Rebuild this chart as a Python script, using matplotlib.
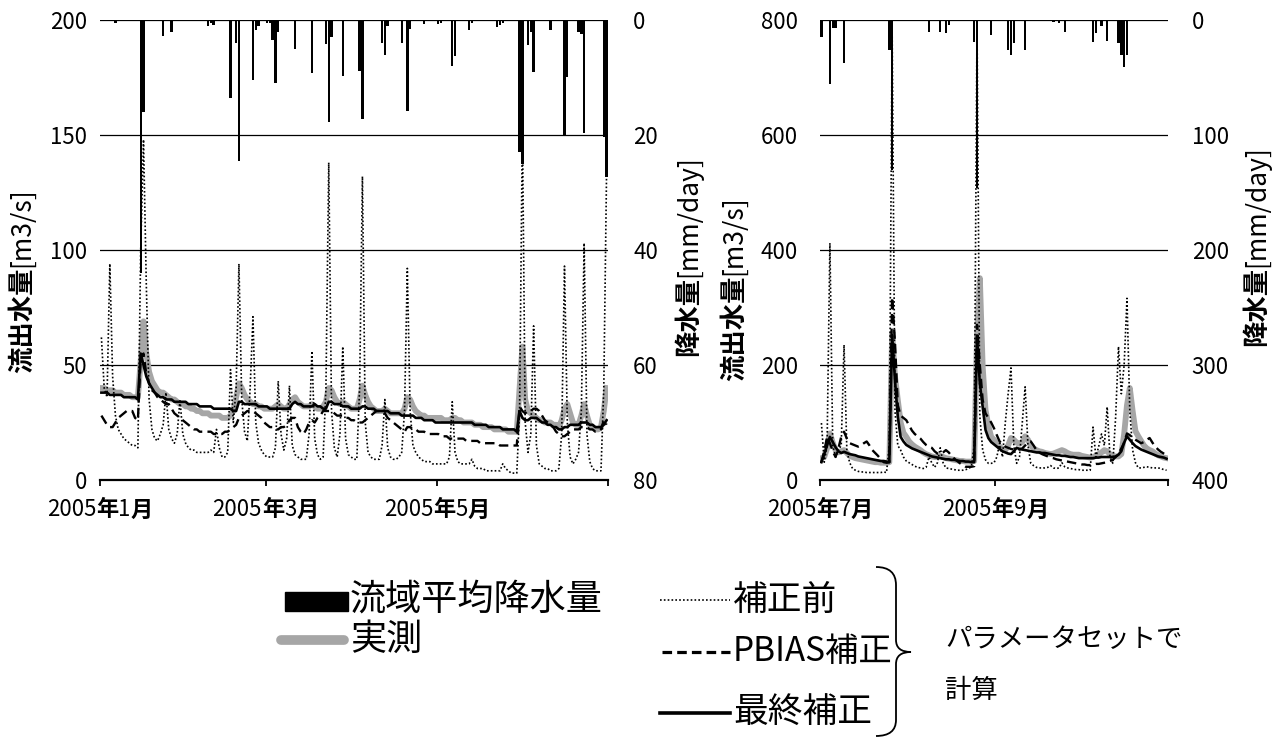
import numpy as np
import pandas as pd
import matplotlib
matplotlib.use('Agg')
import matplotlib.pyplot as plt
import matplotlib.dates as mdates
from matplotlib.transforms import Bbox
from matplotlib.patches import Rectangle, PathPatch
from matplotlib.path import Path

plt.rcParams['font.family'] = ['Noto Sans CJK JP', 'DejaVu Sans']

# ---- 2005年1月〜6月 (daily) ----
obs1 = [40, 40, 39, 39, 39, 38, 38, 38, 37, 37,
        37, 36, 36, 36, 52, 69, 55, 47, 43, 41,
        39, 38, 38, 37, 36, 35, 35, 34, 33, 33,
        32, 32, 31, 31, 30, 30, 29, 29, 29, 28,
        28, 28, 28, 27, 27, 27, 28, 30, 36, 42,
        40, 37, 35, 34, 33, 33, 32, 32, 31, 31,
        31, 31, 32, 33, 32, 31, 31, 33, 35, 36,
        34, 33, 32, 32, 32, 33, 32, 31, 31, 32,
        34, 40, 39, 36, 34, 33, 34, 33, 32, 31,
        31, 31, 35, 41, 37, 34, 32, 31, 30, 30,
        30, 31, 30, 29, 29, 29, 29, 29, 31, 36,
        35, 32, 30, 29, 28, 28, 27, 27, 27, 27,
        27, 27, 26, 26, 26, 27, 27, 26, 26, 25,
        25, 25, 25, 24, 24, 24, 23, 23, 23, 23,
        22, 22, 22, 22, 22, 21, 21, 21, 21, 40,
        58, 35, 30, 29, 28, 27, 26, 26, 25, 25,
        25, 24, 24, 23, 26, 31, 33, 29, 25, 24,
        24, 28, 33, 28, 24, 23, 22, 22, 23, 30,
        40]
raw1 = [62, 40, 36, 94, 45, 28, 22, 20, 18, 17,
        16, 15, 15, 14, 100, 148, 85, 35, 22, 18,
        17, 20, 24, 38, 22, 18, 16, 20, 35, 20,
        16, 14, 13, 13, 12, 12, 12, 12, 12, 13,
        12, 22, 14, 10, 10, 12, 48, 25, 40, 94,
        35, 21, 17, 40, 71, 25, 16, 13, 11, 10,
        10, 10, 14, 43, 20, 13, 18, 41, 15, 11,
        10, 9, 9, 9, 20, 56, 18, 11, 9, 10,
        40, 138, 30, 14, 10, 20, 58, 18, 11, 10,
        9, 9, 40, 132, 25, 12, 10, 9, 9, 9,
        15, 35, 14, 10, 9, 9, 10, 12, 30, 92,
        30, 15, 12, 10, 9, 8, 8, 8, 7, 7,
        7, 7, 7, 7, 10, 34, 12, 8, 7, 7,
        7, 7, 9, 6, 5, 5, 5, 4, 4, 4,
        4, 4, 4, 7, 5, 4, 3, 3, 3, 30,
        155, 25, 12, 20, 67, 15, 7, 6, 5, 5,
        4, 4, 4, 5, 20, 93, 25, 10, 7, 9,
        12, 30, 103, 20, 8, 5, 4, 4, 4, 40,
        135]
pbias1 = [28, 26, 24, 23, 23, 25, 27, 28, 29, 30,
          30, 30, 27, 26, 53, 55, 46, 42, 39, 38,
          36, 35, 34, 33, 33, 31, 29, 28, 27, 26,
          25, 24, 23, 22, 22, 21, 21, 21, 21, 21,
          20, 20, 20, 20, 21, 21, 22, 23, 24, 27,
          28, 29, 30, 30, 30, 29, 28, 27, 25, 24,
          23, 23, 22, 22, 23, 23, 24, 26, 27, 27,
          23, 21, 20, 22, 25, 26, 25, 27, 28, 30,
          30, 30, 30, 29, 28, 28, 28, 27, 27, 26,
          26, 25, 25, 25, 26, 27, 28, 29, 30, 30,
          30, 29, 27, 26, 25, 24, 23, 22, 21, 23,
          23, 22, 22, 21, 21, 21, 20, 20, 20, 20,
          20, 19, 19, 19, 18, 18, 18, 18, 18, 18,
          17, 17, 17, 17, 17, 16, 16, 16, 16, 16,
          16, 16, 15, 15, 15, 15, 15, 15, 15, 32,
          30, 29, 30, 30, 31, 31, 30, 28, 26, 25,
          24, 23, 21, 20, 19, 19, 20, 21, 22, 22,
          22, 23, 23, 23, 22, 22, 21, 21, 22, 26,
          24]
final1 = [38, 38, 38, 37, 37, 37, 37, 37, 36, 36,
          36, 36, 36, 35, 55, 50, 45, 42, 40, 38,
          37, 36, 36, 35, 35, 35, 34, 34, 34, 34,
          34, 33, 33, 33, 33, 32, 32, 32, 32, 32,
          31, 31, 31, 31, 31, 31, 31, 30, 30, 34,
          34, 33, 33, 33, 33, 33, 32, 32, 32, 32,
          31, 31, 31, 31, 31, 31, 31, 31, 33, 34,
          33, 33, 32, 32, 32, 32, 33, 32, 32, 31,
          31, 34, 34, 33, 33, 33, 32, 32, 32, 31,
          31, 31, 31, 32, 32, 31, 31, 31, 30, 30,
          30, 30, 30, 29, 29, 29, 29, 28, 28, 28,
          28, 28, 27, 27, 27, 26, 26, 26, 26, 25,
          25, 25, 25, 25, 25, 25, 25, 25, 25, 25,
          25, 25, 25, 24, 24, 24, 24, 24, 23, 23,
          23, 23, 23, 22, 22, 22, 22, 22, 21, 30,
          27, 26, 26, 27, 27, 27, 26, 25, 25, 24,
          24, 23, 23, 22, 22, 23, 23, 24, 24, 24,
          24, 25, 25, 25, 24, 24, 23, 23, 23, 24,
          26]
rain1_day = [5, 14, 15, 22, 25, 38, 39, 40, 46, 48, 49, 54, 55, 56, 59, 60, 61, 62, 63,
             69, 75, 80, 81, 82, 86, 92, 93, 100, 101, 102, 107, 109, 110, 115, 120, 121,
             125, 126, 131, 132, 141, 142, 143, 149, 150, 152, 153, 154, 160, 165, 166,
             170, 171, 172, 179, 180]
rain1_mm = [0.5, 44, 16, 2.8, 2.1, 1.0, 0.5, 0.8, 13.6, 4.0, 24.5, 10.4, 1.7, 1.0, 0.5, 0.5,
            3.5, 11, 2.0, 5.0, 9.2, 4.2, 17.7, 3.0, 9.7, 8.8, 17.2, 4.0, 6.1, 1.0, 4.0, 15.8,
            1.5, 0.7, 0.7, 0.5, 8.0, 6.3, 1.7, 0.6, 1.2, 0.8, 0.5, 23, 25, 4.3, 2.0, 9.0, 1.7,
            20.2, 9.9, 2.0, 2.4, 19.7, 20.3, 27.3]

# ---- 2005年7月〜10月 (daily) ----
obs2 = [38, 40, 55, 81, 65, 52, 48, 50, 52, 47,
        42, 40, 38, 37, 36, 35, 34, 33, 32, 31,
        31, 30, 30, 30, 31, 255, 180, 139, 100, 82,
        75, 67, 62, 58, 55, 52, 48, 45, 43, 41,
        40, 40, 42, 40, 38, 37, 36, 35, 34, 33,
        33, 32, 32, 32, 33, 250, 351, 197, 122, 95,
        75, 70, 63, 58, 54, 52, 60, 73, 70, 65,
        63, 66, 76, 70, 60, 55, 52, 50, 49, 47,
        46, 45, 46, 48, 50, 52, 50, 47, 45, 44,
        44, 44, 42, 41, 40, 39, 40, 42, 45, 48,
        52, 50, 45, 42, 41, 41, 45, 80, 130, 160,
        120, 85, 76, 68, 60, 55, 52, 50, 46, 43,
        41, 39, 38]
raw2 = [99, 31, 60, 412, 60, 40, 52, 60, 235, 50,
        30, 20, 17, 15, 14, 14, 13, 13, 13, 13,
        13, 13, 14, 13, 60, 780, 120, 60, 52, 40,
        33, 30, 27, 24, 22, 21, 20, 22, 40, 30,
        22, 30, 56, 30, 21, 20, 19, 18, 17, 17,
        17, 18, 20, 23, 60, 790, 110, 52, 35, 29,
        29, 30, 40, 64, 40, 100, 150, 195, 60, 29,
        40, 100, 162, 60, 29, 25, 22, 21, 21, 21,
        22, 25, 21, 20, 21, 30, 23, 21, 20, 19,
        18, 18, 17, 17, 17, 17, 92, 40, 58, 80,
        60, 127, 40, 29, 110, 232, 150, 200, 316, 120,
        52, 30, 21, 21, 22, 23, 22, 21, 21, 21,
        20, 18, 17]
pbias2 = [31, 50, 75, 64, 50, 40, 55, 75, 84, 72,
          64, 62, 60, 58, 60, 64, 67, 60, 52, 47,
          42, 36, 31, 30, 31, 318, 240, 130, 112, 108,
          104, 95, 86, 80, 76, 72, 66, 61, 58, 56,
          50, 46, 45, 48, 52, 48, 42, 37, 33, 29,
          26, 23, 23, 23, 24, 270, 200, 139, 116, 108,
          100, 90, 78, 67, 62, 58, 56, 54, 53, 52,
          53, 55, 60, 65, 67, 60, 52, 48, 45, 43,
          41, 39, 38, 36, 35, 34, 33, 32, 31, 30,
          29, 28, 27, 27, 26, 26, 27, 28, 28, 29,
          30, 31, 33, 35, 40, 45, 55, 65, 81, 78,
          73, 70, 67, 64, 66, 70, 73, 65, 58, 53,
          49, 46, 43]
final2 = [31, 45, 60, 75, 66, 57, 50, 47, 49, 47,
          45, 44, 43, 41, 40, 39, 38, 37, 36, 35,
          34, 33, 33, 32, 31, 252, 174, 110, 75, 67,
          61, 58, 55, 53, 51, 49, 47, 45, 43, 41,
          40, 39, 38, 37, 36, 36, 35, 35, 34, 33,
          33, 32, 32, 31, 31, 249, 168, 127, 87, 73,
          66, 62, 58, 54, 50, 48, 46, 45, 50, 56,
          54, 53, 52, 51, 50, 49, 48, 48, 47, 47,
          46, 45, 44, 43, 43, 42, 42, 41, 40, 40,
          39, 38, 38, 38, 38, 38, 38, 39, 39, 40,
          40, 40, 40, 40, 41, 44, 50, 65, 76, 70,
          64, 59, 56, 53, 51, 49, 47, 45, 43, 41,
          40, 39, 37]
rain2_day = [0, 3, 4, 5, 8, 22, 24, 25, 30, 38, 42, 44, 45, 54, 55, 60, 66, 67, 68, 72,
             76, 82, 84, 86, 87, 96, 97, 99, 101, 105, 106, 107, 108, 118]
rain2_mm = [14.5, 56, 7, 7, 37, 1, 26, 130, 1, 10, 10, 11, 4, 19, 146, 13, 26, 30, 20, 26,
            1, 2, 3, 10, 1, 19, 11, 5, 18, 20, 30, 41, 30, 1]

W, H = 1279, 744
fig = plt.figure(figsize=(W / 100, H / 100), dpi=100)
groups = []


def panel(rect, start, end, ticks, obs, raw, pbias, final, rday, rmm,
          qmax, qstep, rmax, rstep, lpad, rpad):
    ax = fig.add_axes(rect)
    t0 = pd.Timestamp(start)
    x = mdates.date2num(pd.date_range(t0, periods=len(obs), freq='D')) + 0.5
    ax.plot(x, obs, color='#a6a6a6', lw=4.2, solid_joinstyle='round', zorder=2)
    ax.plot(x, raw, color='black', lw=1.2, ls=(0, (1, 1.3)), zorder=3)
    ax.plot(x, pbias, color='black', lw=1.7, ls=(0, (4, 2.2)), zorder=4)
    ax.plot(x, final, color='black', lw=1.9, zorder=5)
    ax.set_xlim(mdates.date2num(t0), mdates.date2num(pd.Timestamp(end)))
    ax.set_ylim(0, qmax)
    ax.set_yticks(np.arange(0, qmax + 1, qstep))
    ax.grid(axis='y', color='black', lw=0.9)
    ax.set_axisbelow(True)
    for s in ['top', 'right', 'left']:
        ax.spines[s].set_visible(False)
    ax.spines['bottom'].set_linewidth(1.6)
    ax.set_xticks(mdates.date2num(pd.to_datetime(ticks)))
    ax.set_xticklabels([])
    ax.tick_params(axis='x', direction='out', length=4.5, width=1.3)
    ax.tick_params(axis='y', length=0, labelsize=16, pad=lpad)

    ax2 = ax.twinx()
    rx = mdates.date2num(t0 + pd.to_timedelta(rday, unit='D')) + 0.5
    ax2.bar(rx, rmm, width=0.85, color='black', zorder=6)
    ax2.set_ylim(rmax, 0)
    ax2.set_yticks(np.arange(0, rmax + 1, rstep))
    for s in ['top', 'right', 'left', 'bottom']:
        ax2.spines[s].set_visible(False)
    ax2.tick_params(axis='y', length=0, labelsize=16, pad=rpad)
    return ax


ax_a = panel([100 / W, 1 - 480 / H, 508 / W, 460 / H], '2005-01-01', '2005-07-01',
             ['2005-01-01', '2005-03-01', '2005-05-01', '2005-07-01'],
             obs1, raw1, pbias1, final1, rain1_day, rain1_mm, 200, 50, 80, 20, 9, 18)
ax_b = panel([820 / W, 1 - 480 / H, 348 / W, 460 / H], '2005-07-01', '2005-11-01',
             ['2005-07-01', '2005-09-01', '2005-11-01'],
             obs2, raw2, pbias2, final2, rain2_day, rain2_mm, 800, 200, 400, 100, 16, 17)

lay = fig.add_axes([0, 0, 1, 1])
lay.set_xlim(0, W)
lay.set_ylim(H, 0)
lay.set_axis_off()


def mixed(parts, cx, cy, size, vertical=False):
    s0, w0 = parts[0]
    if vertical:
        first = lay.text(cx, cy, s0, fontsize=size, fontweight=w0, rotation=90,
                         ha='center', va='bottom')
    else:
        first = lay.text(cx, cy, s0, fontsize=size, fontweight=w0, ha='left', va='bottom')
    pieces = [first]
    for s, w in parts[1:]:
        if vertical:
            t = lay.annotate(s, xy=(0.5, 1), xycoords=pieces[-1], fontsize=size,
                             fontweight=w, rotation=90, ha='center', va='bottom')
        else:
            t = lay.annotate(s, xy=(1, 0), xycoords=pieces[-1], fontsize=size,
                             fontweight=w, ha='left', va='bottom')
        pieces.append(t)
    groups.append((pieces, cx, cy, vertical))


# x tick labels
for ax, dates in [(ax_a, ['2005-01-01', '2005-03-01', '2005-05-01']),
                  (ax_b, ['2005-07-01', '2005-09-01'])]:
    for d in pd.to_datetime(dates):
        px = ax.transData.transform((mdates.date2num(d), 0))[0]
        mixed([('2005', 'normal'), ('年', 'bold'), (str(d.month), 'normal'), ('月', 'bold')],
              px, 510, 16)

# axis titles
mixed([('流出水量', 'bold'), ('[m3/s]', 'normal')], 22, 280, 19, vertical=True)
mixed([('降水量', 'bold'), ('[mm/day]', 'normal')], 689, 256, 19, vertical=True)
mixed([('流出水量', 'bold'), ('[m3/s]', 'normal')], 734, 288, 19, vertical=True)
mixed([('降水量', 'bold'), ('[mm/day]', 'normal')], 1257, 246, 19, vertical=True)

# legend
lay.add_patch(Rectangle((285, 592), 63, 19, color='black'))
lay.text(350, 600, '流域平均降水量', fontsize=26, va='center', ha='left')
lay.plot([281, 344], [640, 640], color='#a6a6a6', lw=7, solid_capstyle='round')
lay.text(350, 640, '実測', fontsize=26, va='center', ha='left')
lay.plot([660, 730], [600, 600], color='black', lw=1.2, ls=(0, (1, 1.3)))
lay.text(733, 600, '補正前', fontsize=25, va='center', ha='left')
lay.plot([662, 730], [652, 652], color='black', lw=2.3, ls=(0, (3, 1.6)))
lay.text(733, 652, 'PBIAS補正', fontsize=24, va='center', ha='left')
lay.plot([660, 730], [713, 713], color='black', lw=2.6)
lay.text(733, 713, '最終補正', fontsize=25, va='center', ha='left')
brace = Path([(876, 567), (896, 567), (896, 585), (896, 640), (896, 652), (911, 652),
              (896, 652), (896, 664), (896, 720), (896, 736), (876, 736)],
             [Path.MOVETO, Path.CURVE3, Path.CURVE3, Path.LINETO, Path.CURVE3, Path.CURVE3,
              Path.CURVE3, Path.CURVE3, Path.LINETO, Path.CURVE3, Path.CURVE3])
lay.add_patch(PathPatch(brace, fill=False, color='black', lw=1.3))
lay.text(945, 640, 'パラメータセットで', fontsize=19, va='center', ha='left')
lay.text(945, 690, '計算', fontsize=19, va='center', ha='left')

# center the mixed-weight labels
fig.canvas.draw()
r = fig.canvas.get_renderer()
for pieces, cx, cy, vertical in groups:
    bb = Bbox.union([p.get_window_extent(r) for p in pieces])
    x0, y0 = pieces[0].get_position()
    mid_y = H - (bb.y0 + bb.y1) / 2
    if vertical:
        pieces[0].set_position((x0, y0 + (cy - mid_y)))
    else:
        mid_x = (bb.x0 + bb.x1) / 2
        pieces[0].set_position((x0 + (cx - mid_x), y0 + (cy - mid_y)))

fig.savefig('out.png', dpi=100)
